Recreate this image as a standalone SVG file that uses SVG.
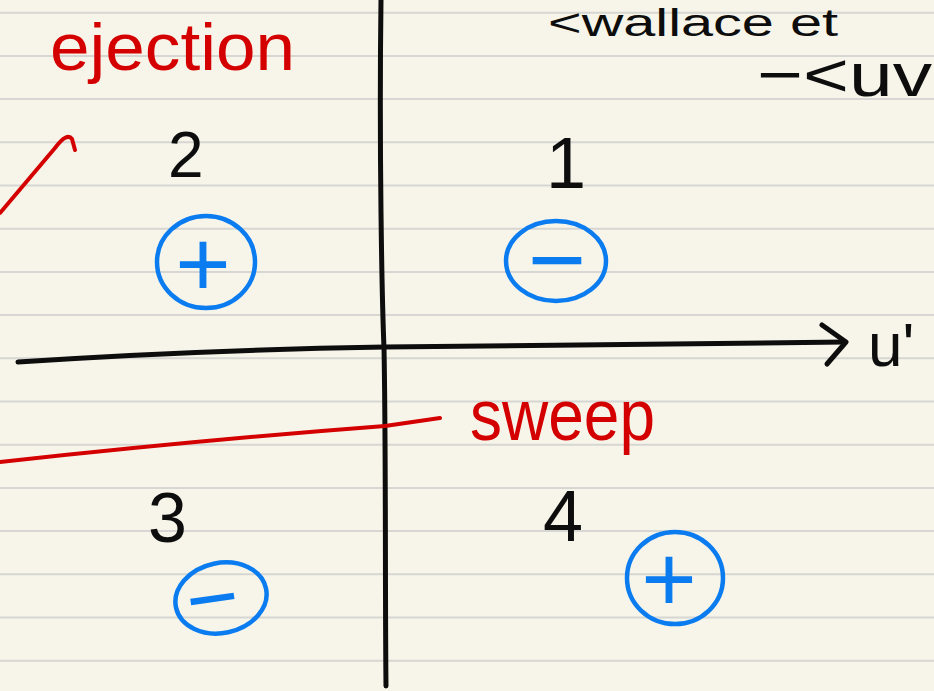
<svg xmlns="http://www.w3.org/2000/svg" width="934" height="691" viewBox="0 0 934 691">
<defs>
<style>
.rule{stroke:#d6d6d2;stroke-width:2;fill:none}
.ink{fill:none;stroke-linecap:round;stroke-linejoin:round}
.blk{stroke:#0d0d0d;stroke-width:5}
.red{stroke:#d40000;stroke-width:4}
.blue{stroke:#0a7cf0;stroke-width:4.5;fill:none}
.tblk{fill:#0d0d0d;font-family:"Liberation Sans","DejaVu Sans",sans-serif}
.tred{fill:#d40000;font-family:"Liberation Sans","DejaVu Sans",sans-serif}
.tblue{fill:#0a7cf0;font-family:"Liberation Sans","DejaVu Sans",sans-serif}
</style>
</defs>
<rect width="934" height="691" fill="#f7f5ea"/>
<g id="paper-lines">
<line class="rule" x1="0" y1="12.7" x2="934" y2="12.7"/>
<line class="rule" x1="0" y1="55.9" x2="934" y2="55.9"/>
<line class="rule" x1="0" y1="99.1" x2="934" y2="99.1"/>
<line class="rule" x1="0" y1="142.3" x2="934" y2="142.3"/>
<line class="rule" x1="0" y1="185.5" x2="934" y2="185.5"/>
<line class="rule" x1="0" y1="228.7" x2="934" y2="228.7"/>
<line class="rule" x1="0" y1="271.9" x2="934" y2="271.9"/>
<line class="rule" x1="0" y1="315.1" x2="934" y2="315.1"/>
<line class="rule" x1="0" y1="358.3" x2="934" y2="358.3"/>
<line class="rule" x1="0" y1="401.5" x2="934" y2="401.5"/>
<line class="rule" x1="0" y1="444.7" x2="934" y2="444.7"/>
<line class="rule" x1="0" y1="487.9" x2="934" y2="487.9"/>
<line class="rule" x1="0" y1="531.1" x2="934" y2="531.1"/>
<line class="rule" x1="0" y1="574.3" x2="934" y2="574.3"/>
<line class="rule" x1="0" y1="617.5" x2="934" y2="617.5"/>
<line class="rule" x1="0" y1="660.7" x2="934" y2="660.7"/>
</g>
<g id="connectors">
<path class="ink blk" d="M381,0 C379,150 382,300 384,348 C386,450 385,600 386,686"/>
<path class="ink blk" d="M18,362 Q200,350 385,347 L845,342"/>
<path class="ink blk" d="M822,325 L846,342 L827,364"/>
<path class="ink red" d="M0,213 L55,148 Q67,132 72,139 L75,150"/>
<path class="ink red" d="M0,462 Q200,440 385,426 L440,418"/>
</g>
<g id="header">
<text class="tblk" x="548" y="36" font-size="38" textLength="290" lengthAdjust="spacingAndGlyphs">&lt;wallace et</text>
<text class="tblk" x="757" y="96" font-size="62" textLength="175" lengthAdjust="spacingAndGlyphs">−&lt;uv</text>
</g>
<g id="axis-label">
<text class="tblk" x="868" y="366" font-size="62">u'</text>
</g>
<g id="ejection">
<text class="tred" x="50" y="70" font-size="66" textLength="245" lengthAdjust="spacingAndGlyphs">ejection</text>
</g>
<g id="sweep">
<text class="tred" x="470" y="440" font-size="72" textLength="185" lengthAdjust="spacingAndGlyphs">sweep</text>
</g>
<g id="q2">
<text class="tblk" x="168" y="177" font-size="64">2</text>
<ellipse class="blue" cx="206" cy="262" rx="49" ry="46"/>
<text class="tblue" x="203" y="296" font-size="95" text-anchor="middle">+</text>
</g>
<g id="q1">
<text class="tblk" x="546" y="188" font-size="72">1</text>
<ellipse class="blue" cx="556" cy="261" rx="50" ry="40"/>
<text class="tblue" x="557" y="294" font-size="100" text-anchor="middle">−</text>
</g>
<g id="q3">
<text class="tblk" x="148" y="542" font-size="70">3</text>
<ellipse class="blue" cx="221" cy="598" rx="46" ry="35" transform="rotate(-12 221 598)"/>
<text class="tblue" x="212" y="629" font-size="90" text-anchor="middle" transform="rotate(-8 212 597)">−</text>
</g>
<g id="q4">
<text class="tblk" x="543" y="541" font-size="72">4</text>
<ellipse class="blue" cx="675" cy="578" rx="48" ry="46"/>
<text class="tblue" x="669" y="611" font-size="95" text-anchor="middle">+</text>
</g>
</svg>
